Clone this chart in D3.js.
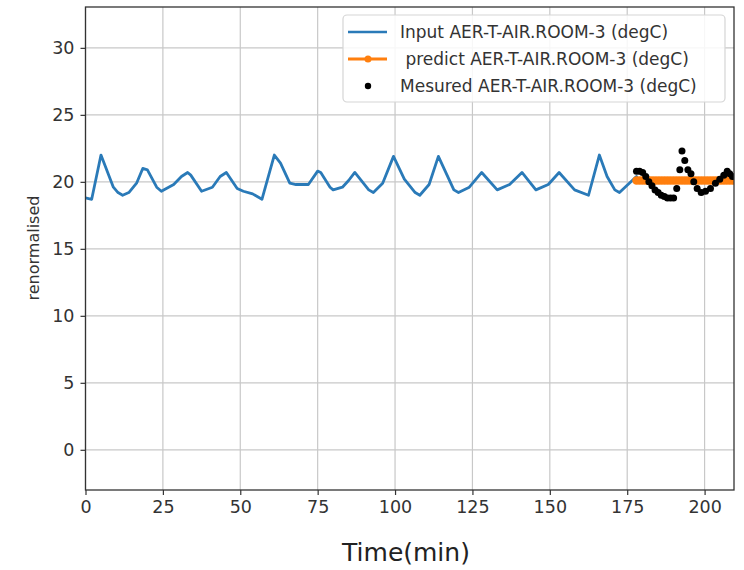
<!DOCTYPE html>
<html>
<head>
<meta charset="utf-8">
<script src="https://cdn.jsdelivr.net/npm/d3@7/dist/d3.min.js"></script>
<style>
  html, body { margin: 0; padding: 0; background: #fff; }
  svg { display: block; font-family: "DejaVu Sans", sans-serif; }
</style>
</head>
<body>
<svg id="chart" width="744" height="570"></svg>
<script>
// ---- data ----
const inputTime = [0, 2, 5, 9, 10.5, 12, 14, 16.5, 18.5, 20, 23, 24.5, 28.5, 31, 33, 34, 37.5, 41, 43.5, 45.5, 49, 51, 54, 57, 61, 63, 66, 68, 72, 75, 76, 79, 80, 83, 85, 87, 91.5, 93, 96, 99.5, 103, 106.5, 108, 111, 114, 119, 120.5, 124, 128, 133, 137, 141, 145.5, 149.5, 153, 158, 162.5, 166, 168.5, 171, 172.5, 178];
const inputValue = [18.8, 18.7, 22.0, 19.6, 19.2, 19.0, 19.2, 19.9, 21.0, 20.9, 19.6, 19.3, 19.8, 20.4, 20.7, 20.5, 19.3, 19.6, 20.4, 20.7, 19.5, 19.3, 19.1, 18.7, 22.0, 21.4, 19.9, 19.8, 19.8, 20.8, 20.7, 19.6, 19.4, 19.6, 20.1, 20.7, 19.4, 19.2, 19.9, 21.9, 20.2, 19.2, 19.0, 19.8, 21.9, 19.4, 19.2, 19.6, 20.7, 19.4, 19.8, 20.7, 19.4, 19.8, 20.7, 19.4, 19.0, 22.0, 20.4, 19.4, 19.2, 20.4];

const predictTime = [178, 179, 180, 181, 182, 183, 184, 185, 186, 187, 188, 189, 190, 191, 192, 193, 194, 195, 196, 197, 198, 199, 200, 201, 202, 203, 204, 205, 206, 207, 208, 209, 210];
const predictValue = [20.1, 20.1, 20.1, 20.1, 20.1, 20.1, 20.1, 20.1, 20.1, 20.1, 20.1, 20.1, 20.1, 20.1, 20.1, 20.1, 20.1, 20.1, 20.1, 20.1, 20.1, 20.1, 20.1, 20.1, 20.1, 20.1, 20.1, 20.1, 20.1, 20.1, 20.1, 20.1, 20.1];

const measuredTime = [178, 179, 180, 181, 182, 183, 184, 185, 186, 187, 188, 189, 190, 191, 192, 192.7, 193.6, 194.6, 195.6, 196.5, 197.6, 198.9, 200.3, 201.9, 203.5, 204.9, 206.2, 207.3, 208.1, 209];
const measuredValue = [20.8, 20.8, 20.7, 20.4, 20.0, 19.7, 19.4, 19.2, 19.0, 18.9, 18.8, 18.8, 18.8, 19.5, 20.9, 22.3, 21.6, 20.9, 20.6, 20.0, 19.5, 19.2, 19.3, 19.5, 19.9, 20.2, 20.5, 20.8, 20.6, 20.4];

const xTicks = [0, 25, 50, 75, 100, 125, 150, 175, 200];
const yTicks = [0, 5, 10, 15, 20, 25, 30];
const legendLabels = ["Input AER-T-AIR.ROOM-3 (degC)", " predict AER-T-AIR.ROOM-3 (degC)", "Mesured AER-T-AIR.ROOM-3 (degC)"];
const xLabel = "Time(min)";
const yLabel = "renormalised";

// ---- layout ----
const L = 85.5, R = 734, T = 7, B = 490;
const svg = d3.select("#chart");
const x = d3.scaleLinear().domain([0, 209.5]).range([L, R]);
const y = d3.scaleLinear().domain([-3, 33.05]).range([B, T]);

const defs = svg.append("defs");
defs.append("clipPath").attr("id", "clip").append("rect")
  .attr("x", L).attr("y", T).attr("width", R - L).attr("height", B - T);

// grid
const grid = svg.append("g");
grid.selectAll("line.gx").data(xTicks).join("line")
  .attr("x1", d => x(d)).attr("x2", d => x(d)).attr("y1", T).attr("y2", B)
  .attr("stroke", "#c8c8c8").attr("stroke-width", 1.2);
grid.selectAll("line.gy").data(yTicks).join("line")
  .attr("y1", d => y(d)).attr("y2", d => y(d)).attr("x1", L).attr("x2", R)
  .attr("stroke", "#c8c8c8").attr("stroke-width", 1.2);

// axes
const xAxis = d3.axisBottom(x).tickValues(xTicks).tickSize(5).tickPadding(6).tickFormat(d3.format("d"));
const yAxis = d3.axisLeft(y).tickValues(yTicks).tickSize(5).tickPadding(6).tickFormat(d3.format("d"));
const gx = svg.append("g").attr("transform", `translate(0,${B})`).call(xAxis);
const gy = svg.append("g").attr("transform", `translate(${L},0)`).call(yAxis);
[gx, gy].forEach(g => {
  g.select(".domain").remove();
  g.selectAll(".tick line").attr("stroke", "#333").attr("stroke-width", 1.2);
  g.selectAll(".tick text").attr("fill", "#333").style("font-size", "17.5px").style("font-family", "DejaVu Sans");
});

// data layer
const plot = svg.append("g").attr("clip-path", "url(#clip)");

plot.append("path")
  .datum(inputTime.map((t, i) => [t, inputValue[i]]))
  .attr("fill", "none").attr("stroke", "#2a7ab8").attr("stroke-width", 2.8)
  .attr("stroke-linejoin", "round").attr("stroke-linecap", "round")
  .attr("d", d3.line().x(d => x(d[0])).y(d => y(d[1])));

const pred = predictTime.map((t, i) => [t, predictValue[i]]);
plot.append("path").datum(pred)
  .attr("fill", "none").attr("stroke", "#ff7f0e").attr("stroke-width", 3)
  .attr("d", d3.line().x(d => x(d[0])).y(d => y(d[1])));
plot.selectAll("circle.p").data(pred).join("circle")
  .attr("cx", d => x(d[0])).attr("cy", d => y(d[1])).attr("r", 4.2).attr("fill", "#ff7f0e");

plot.selectAll("circle.m").data(measuredTime.map((t, i) => [t, measuredValue[i]])).join("circle")
  .attr("cx", d => x(d[0])).attr("cy", d => y(d[1])).attr("r", 3.5).attr("fill", "#000");

// spines
svg.append("rect").attr("x", L).attr("y", T).attr("width", R - L).attr("height", B - T)
  .attr("fill", "none").attr("stroke", "#333").attr("stroke-width", 1.3);

// axis labels
svg.append("text").attr("x", 406).attr("y", 561).attr("text-anchor", "middle")
  .style("font-size", "25px").attr("fill", "#222").text(xLabel);
svg.append("text").attr("transform", "translate(39,248) rotate(-90)").attr("text-anchor", "middle")
  .style("font-size", "16px").attr("fill", "#333").text(yLabel);

// legend
const lg = svg.append("g");
lg.append("rect").attr("x", 343).attr("y", 15).attr("width", 382).attr("height", 87)
  .attr("rx", 4).attr("fill", "rgba(255,255,255,0.85)").attr("stroke", "#d5d5d5").attr("stroke-width", 1.2);
const rowsY = [32, 59, 86];
lg.append("line").attr("x1", 348).attr("x2", 387).attr("y1", rowsY[0]).attr("y2", rowsY[0])
  .attr("stroke", "#2a7ab8").attr("stroke-width", 2.6);
lg.append("line").attr("x1", 348).attr("x2", 387).attr("y1", rowsY[1]).attr("y2", rowsY[1])
  .attr("stroke", "#ff7f0e").attr("stroke-width", 3);
lg.append("circle").attr("cx", 368).attr("cy", rowsY[1]).attr("r", 3.5).attr("fill", "#ff7f0e");
lg.append("circle").attr("cx", 368).attr("cy", rowsY[2]).attr("r", 3.2).attr("fill", "#000");
lg.selectAll("text").data(legendLabels).join("text")
  .attr("x", 400).attr("y", (d, i) => rowsY[i] + 6)
  .attr("xml:space", "preserve").style("white-space", "pre")
  .style("font-size", "17px").attr("fill", "#333").text(d => d);
</script>
</body>
</html>
